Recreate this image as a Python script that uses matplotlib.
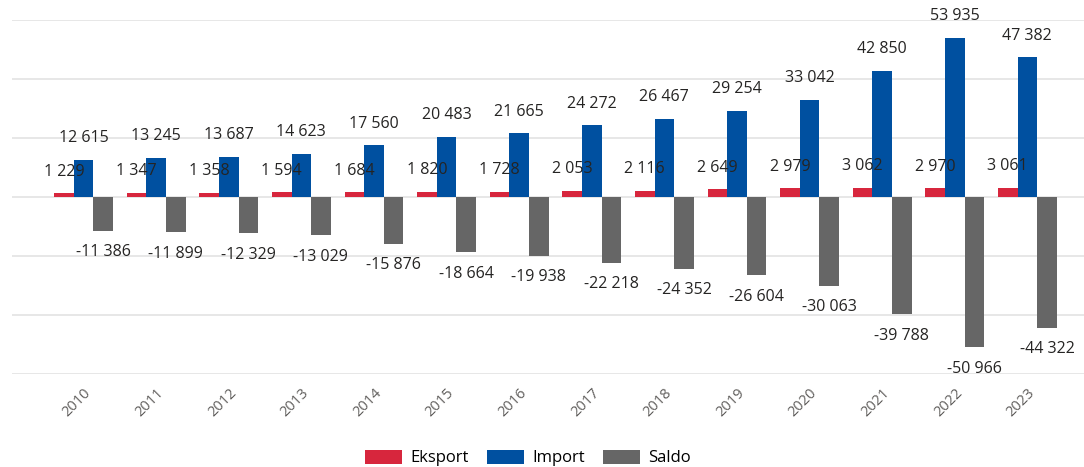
import numpy as np
import matplotlib
matplotlib.use('Agg')
from matplotlib import pyplot as plt

years = ['2010', '2011', '2012', '2013', '2014', '2015', '2016',
         '2017', '2018', '2019', '2020', '2021', '2022', '2023']
eksport = [1229, 1347, 1358, 1594, 1684, 1820, 1728,
           2053, 2116, 2649, 2979, 3062, 2970, 3061]
import_ = [12615, 13245, 13687, 14623, 17560, 20483, 21665,
           24272, 26467, 29254, 33042, 42850, 53935, 47382]
saldo = [-11386, -11899, -12329, -13029, -15876, -18664, -19938,
         -22218, -24352, -26604, -30063, -39788, -50966, -44322]

series = [('Eksport', eksport, '#D7263D'),
          ('Import', import_, '#0050A0'),
          ('Saldo', saldo, '#666666')]

plt.rcParams['font.family'] = ['Open Sans', 'DejaVu Sans']

fig = plt.figure(figsize=(10.84, 4.67), dpi=100)
ax = fig.add_axes([12/1084, 1 - 374/467, 1 - 12/1084, (374 - 20)/467])

x = np.arange(len(years))
w = 0.27

def fmt(v):
    return f"{v:,}".replace(',', ' ')

for i, (name, vals, col) in enumerate(series):
    pos = x + (i - 1) * w
    ax.bar(pos, vals, width=w, color=col, label=name, zorder=2)
    for px, v in zip(pos, vals):
        off = 15.5 if v >= 0 else -15.5
        ax.annotate(fmt(v), (px, v), xytext=(0, off), textcoords='offset points',
                    ha='center', va='center', fontsize=11.5, color='#252423', zorder=5)

ax.set_ylim(-60000, 60000)
ax.set_xlim(-0.985, 13.78)
ax.set_yticks(range(-60000, 60001, 20000))
ax.yaxis.grid(True, color='#E3E3E3', linewidth=1.2, zorder=0)
ax.set_axisbelow(True)
ax.tick_params(axis='y', length=0, labelleft=False)
ax.set_xticks(x)
ax.set_xticklabels(years, rotation=45, ha='right', rotation_mode='anchor',
                   fontsize=10.5, color='#605E5C')
ax.tick_params(axis='x', length=0, pad=8)
for s in ax.spines.values():
    s.set_visible(False)

fig.legend(loc='center', bbox_to_anchor=(528/1084, 9/467), ncol=3, frameon=False,
           fontsize=12, handlelength=2.2, handleheight=0.9, handletextpad=0.5,
           columnspacing=1.1, borderpad=0.2)

fig.savefig('out.png', dpi=100)
